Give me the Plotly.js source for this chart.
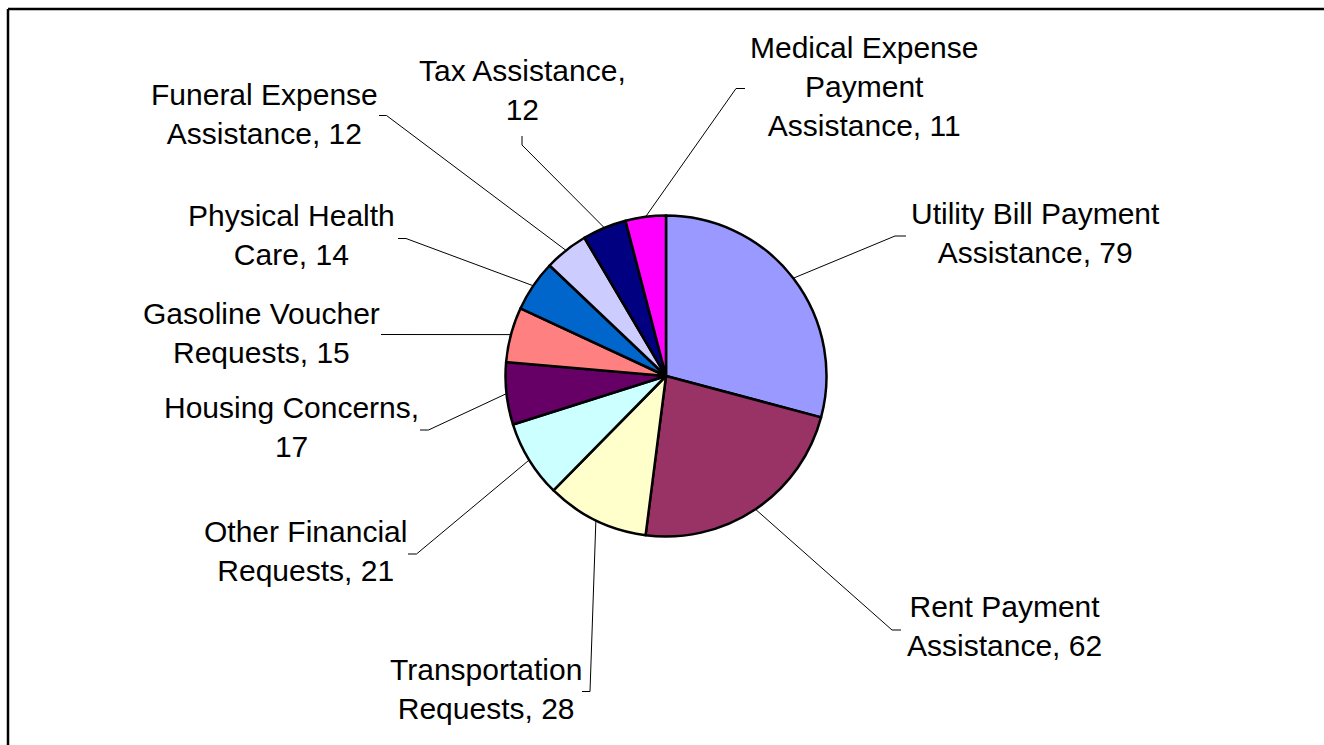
<!DOCTYPE html>
<html><head><meta charset="utf-8">
<script src="https://cdn.plot.ly/plotly-3.0.1.min.js"></script>
<style>html,body{margin:0;padding:0;background:#fff;overflow:hidden}#chart{width:1324px;height:745px}</style>
</head><body><div id="chart"></div>
<script>
// ---- data ----
const categories = ["Utility Bill Payment Assistance", "Rent Payment Assistance", "Transportation Requests",
  "Other Financial Requests", "Housing Concerns", "Gasoline Voucher Requests", "Physical Health Care",
  "Funeral Expense Assistance", "Tax Assistance", "Medical Expense Payment Assistance"];
const values = [79, 62, 28, 21, 17, 15, 14, 12, 12, 11];
const labelWrap = ["Utility Bill Payment<br>Assistance, ", "Rent Payment<br>Assistance, ", "Transportation<br>Requests, ",
  "Other Financial<br>Requests, ", "Housing Concerns,<br>", "Gasoline Voucher<br>Requests, ", "Physical Health<br>Care, ",
  "Funeral Expense<br>Assistance, ", "Tax Assistance,<br>", "Medical Expense<br>Payment<br>Assistance, "];
const colors = ["#9999FF", "#993366", "#FFFFCC", "#CCFFFF", "#660066", "#FF8080", "#0066CC", "#CCCCFF", "#000080", "#FF00FF"];

// ---- layout (pixels) ----
const W = 1324, H = 745;
const CX = 666, CY = 376, R = 160.5;
const labelPos = [[1035, 233], [1004, 626], [486, 689], [305, 551], [291, 427], [261, 333], [291, 235], [264, 114], [522, 90], [864, 86]];
const stubs = [
  [[906, 236], [895, 236]],
  [[901, 630], [892, 630]],
  [[582, 691.5], [590, 691.5]],
  [[408, 554], [416.5, 554]],
  [[420, 430], [428.5, 430]],
  [[381, 334.5], [381, 334.5]],
  [[398, 238.5], [406, 238.5]],
  [[379, 115.5], [386.5, 115.5]],
  [[522, 136], [522, 145]],
  [[745, 88.5], [736, 88.5]]
];

const px = x => x / W, py = y => 1 - y / H;
const total = values.reduce((a, b) => a + b, 0);

const shapes = [];
const annotations = [];
let cum = 0;
values.forEach((v, i) => {
  const mid = (cum + v / 2) / total * 2 * Math.PI;
  cum += v;
  const ex = CX + R * Math.sin(mid), ey = CY - R * Math.cos(mid);
  const s = stubs[i];
  shapes.push({
    type: 'path', xref: 'paper', yref: 'paper',
    path: `M ${px(s[0][0])} ${py(s[0][1])} L ${px(s[1][0])} ${py(s[1][1])} L ${px(ex)} ${py(ey)}`,
    line: {color: '#000', width: 1}
  });
  annotations.push({
    xref: 'paper', yref: 'paper', x: px(labelPos[i][0]), y: py(labelPos[i][1]),
    xanchor: 'center', yanchor: 'middle', align: 'center', showarrow: false,
    text: labelWrap[i] + values[i],
    font: {family: 'Liberation Sans, Arial, sans-serif', size: 30, color: '#000'}
  });
});

// chart frame (top and left edges visible)
shapes.push({type: 'line', xref: 'paper', yref: 'paper', x0: px(8), x1: 1.01, y0: py(9), y1: py(9), line: {color: '#000', width: 2.5}});
shapes.push({type: 'line', xref: 'paper', yref: 'paper', x0: px(8), x1: px(8), y0: py(9), y1: -0.01, line: {color: '#000', width: 2.5}});

const trace = {
  type: 'pie', labels: categories, values: values, sort: false, direction: 'clockwise', rotation: 0,
  marker: {colors: colors, line: {color: '#000', width: 2.5}},
  textinfo: 'none', hoverinfo: 'skip', showlegend: false,
  domain: {x: [px(CX - R), px(CX + R)], y: [py(CY + R), py(CY - R)]}
};

Plotly.newPlot('chart', [trace], {
  width: W, height: H, margin: {l: 0, r: 0, t: 0, b: 0},
  paper_bgcolor: '#fff', plot_bgcolor: '#fff', showlegend: false,
  shapes: shapes, annotations: annotations
}, {staticPlot: true, displayModeBar: false});
</script></body></html>
